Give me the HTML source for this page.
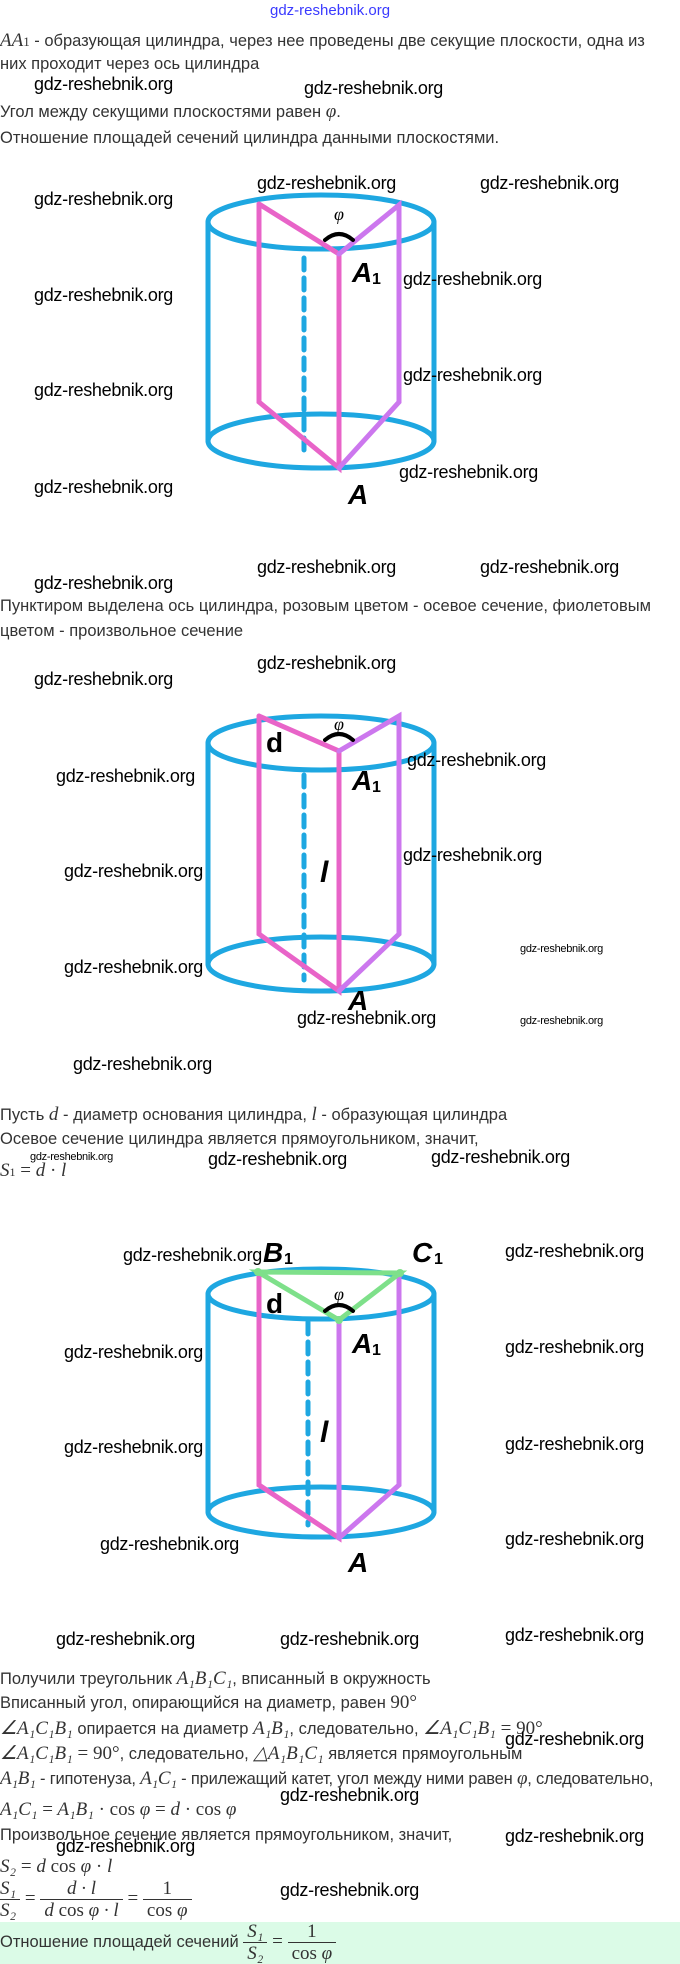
<!DOCTYPE html>
<html><head><meta charset="utf-8"><style>
body{margin:0;width:680px;height:1964px;position:relative;background:#fff;overflow:hidden;font-family:"Liberation Sans",sans-serif;}
.t{position:absolute;left:0;font-size:16.5px;color:#333;white-space:nowrap;}
.m{font-family:"Liberation Serif",serif;font-style:italic;font-size:19px;}
.w{position:absolute;font-size:18px;color:#000;white-space:nowrap;font-family:"Liberation Sans",sans-serif;letter-spacing:-0.3px;}
.s{font-size:11px;}
svg{position:absolute;left:0;top:0;}
.fr{display:inline-block;vertical-align:middle;text-align:center;font-family:"Liberation Serif",serif;font-style:italic;font-size:19px;white-space:nowrap;line-height:21px;}
.fr > span{display:block;padding:0 4px;white-space:nowrap;}
.fr > span.n{border-bottom:1px solid #333;}
.up{font-style:normal;}
</style></head><body>
<div style="position:absolute;left:270px;top:2px;color:#3a3aff;font-size:15px;">gdz-reshebnik.org</div>
<div class="t" style="top:30px"><span class="m">AA</span><span class="m" style="font-size:13px;font-style:normal">1</span> - образующая цилиндра, через нее проведены две секущие плоскости, одна из</div>
<div class="t" style="top:55px">них проходит через ось цилиндра</div>
<div class="t" style="top:101px">Угол между секущими плоскостями равен <span class="m">φ</span>.</div>
<div class="t" style="top:129px">Отношение площадей сечений цилиндра данными плоскостями.</div>

<svg width="680" height="1964" viewBox="0 0 680 1964">
<g fill="none" stroke-width="5" stroke-linecap="round">
<line x1="208" y1="222" x2="208" y2="441" stroke="#1ea7e1"/>
<line x1="434" y1="222" x2="434" y2="441" stroke="#1ea7e1"/>
<ellipse cx="321" cy="222" rx="113" ry="27" stroke="#1ea7e1"/>
<ellipse cx="321" cy="441" rx="113" ry="27" stroke="#1ea7e1"/>
<line x1="304" y1="258" x2="304" y2="458" stroke="#1ea7e1" stroke-dasharray="12,8"/>
<polyline points="259,204 339,254 339,468 259,402 259,204" stroke="#e864c8"/>
<polyline points="339,254 399,205 399,402 339,468" stroke="#cc77ee"/>
<path d="M325 240 Q339 228 353 240" stroke="#000" stroke-width="4"/>
<line x1="208" y1="743" x2="208" y2="964" stroke="#1ea7e1"/>
<line x1="434" y1="743" x2="434" y2="964" stroke="#1ea7e1"/>
<ellipse cx="321" cy="743" rx="113" ry="27" stroke="#1ea7e1"/>
<ellipse cx="321" cy="964" rx="113" ry="27" stroke="#1ea7e1"/>
<line x1="304" y1="775" x2="304" y2="980" stroke="#1ea7e1" stroke-dasharray="12,8"/>
<polyline points="259,716 339,751 339,991 259,934 259,716" stroke="#e864c8"/>
<polyline points="339,751 399,716 399,934 339,991" stroke="#cc77ee"/>
<path d="M325 740 Q339 728 353 740" stroke="#000" stroke-width="4"/>
<line x1="208" y1="1294" x2="208" y2="1512" stroke="#1ea7e1"/>
<line x1="434" y1="1294" x2="434" y2="1512" stroke="#1ea7e1"/>
<ellipse cx="321" cy="1294" rx="113" ry="25" stroke="#1ea7e1"/>
<ellipse cx="321" cy="1512" rx="113" ry="25" stroke="#1ea7e1"/>
<line x1="308" y1="1322" x2="308" y2="1525" stroke="#1ea7e1" stroke-dasharray="12,8"/>
<polyline points="259,1272 259,1485 339,1538 339,1320" stroke="#e864c8"/>
<polyline points="399,1273 399,1485 339,1538" stroke="#cc77ee"/>
<line x1="339" y1="1320" x2="339" y2="1538" stroke="#cc77ee"/>
<polygon points="258,1272 400,1273 339,1320" stroke="#7ee08a"/>
<circle cx="258" cy="1272" r="4" fill="#7ee08a" stroke="none"/>
<circle cx="400" cy="1273" r="4" fill="#7ee08a" stroke="none"/>
<circle cx="339" cy="1320" r="4" fill="#7ee08a" stroke="none"/>
<path d="M325 1311 Q339 1299 353 1311" stroke="#000" stroke-width="4"/>
</g>
<g font-family="Liberation Sans,sans-serif" font-weight="bold" font-style="italic" fill="#000">
<text x="334" y="220" font-size="18" font-family="Liberation Serif,serif" font-weight="normal">φ</text>
<text x="352" y="282" font-size="28">A</text><text x="372" y="284" font-size="16" font-style="normal">1</text>
<text x="348" y="504" font-size="28">A</text>
<text x="334" y="730" font-size="18" font-family="Liberation Serif,serif" font-weight="normal">φ</text>
<text x="266" y="752" font-size="28" font-style="normal">d</text>
<text x="352" y="790" font-size="28">A</text><text x="372" y="792" font-size="16" font-style="normal">1</text>
<text x="320" y="882" font-size="30">l</text>
<text x="348" y="1010" font-size="28">A</text>
<text x="334" y="1300" font-size="18" font-family="Liberation Serif,serif" font-weight="normal">φ</text>
<text x="266" y="1313" font-size="28" font-style="normal">d</text>
<text x="263" y="1262" font-size="28">B</text><text x="284" y="1264" font-size="16" font-style="normal">1</text>
<text x="412" y="1262" font-size="28">C</text><text x="434" y="1264" font-size="16" font-style="normal">1</text>
<text x="352" y="1353" font-size="28">A</text><text x="372" y="1355" font-size="16" font-style="normal">1</text>
<text x="320" y="1442" font-size="30">l</text>
<text x="348" y="1572" font-size="28">A</text>
</g>
</svg>

<div class="t" style="top:597px">Пунктиром выделена ось цилиндра, розовым цветом - осевое сечение, фиолетовым</div>
<div class="t" style="top:622px">цветом - произвольное сечение</div>
<div class="t" style="top:1104px">Пусть <span class="m">d</span> - диаметр основания цилиндра, <span class="m">l</span> - образующая цилиндра</div>
<div class="t" style="top:1130px">Осевое сечение цилиндра является прямоугольником, значит,</div>
<div class="t m" style="top:1160px;font-size:19px"><i>S</i><span style="font-size:12px;font-style:normal">1</span> <span class="up">= </span>d <span class="up">·</span> l</div>

<div class="t" style="top:1668px">Получили треугольник <span class="m">A₁B₁C₁</span>, вписанный в окружность</div>
<div class="t" style="top:1692px">Вписанный угол, опирающийся на диаметр, равен <span class="m up">90°</span></div>
<div class="t" style="top:1717px"><span class="m">∠A₁C₁B₁</span> опирается на диаметр <span class="m">A₁B₁</span>, следовательно, <span class="m">∠A₁C₁B₁ <span class="up">= 90°</span></span></div>
<div class="t" style="top:1742px"><span class="m">∠A₁C₁B₁ <span class="up">= 90°</span></span>, следовательно, <span class="m">△A₁B₁C₁</span> является прямоугольным</div>
<div class="t" style="top:1768px;letter-spacing:-0.2px"><span class="m">A₁B₁</span> - гипотенуза, <span class="m">A₁C₁</span> - прилежащий катет, угол между ними равен <span class="m">φ</span>, следовательно,</div>
<div class="t m" style="top:1799px">A₁C₁ <span class="up">=</span> A₁B₁ <span class="up">· cos</span> φ <span class="up">=</span> d <span class="up">· cos</span> φ</div>
<div class="t" style="top:1826px">Произвольное сечение является прямоугольником, значит,</div>
<div class="t m" style="top:1856px">S₂ <span class="up">=</span> d <span class="up">cos</span> φ <span class="up">·</span> l</div>
<div class="t" style="top:1878px;left:-4px"><span class="fr"><span class="n">S₁</span><span>S₂</span></span><span class="m up"> = </span><span class="fr"><span class="n">d · l</span><span>d <i class="up">cos</i> φ · l</span></span><span class="m up"> = </span><span class="fr"><span class="n up">1</span><span><i class="up">cos</i> φ</span></span></div>
<div style="position:absolute;left:0;top:1922px;width:680px;height:42px;background:#dbfbe7"></div>
<div class="t" style="top:1921px">Отношение площадей сечений <span class="fr"><span class="n">S₁</span><span>S₂</span></span><span class="m up"> = </span><span class="fr"><span class="n up">1</span><span><i class="up">cos</i> φ</span></span></div>

<div class="w" style="left:34px;top:74px">gdz-reshebnik.org</div>
<div class="w" style="left:304px;top:78px">gdz-reshebnik.org</div>
<div class="w" style="left:34px;top:189px">gdz-reshebnik.org</div>
<div class="w" style="left:257px;top:173px">gdz-reshebnik.org</div>
<div class="w" style="left:480px;top:173px">gdz-reshebnik.org</div>
<div class="w" style="left:34px;top:285px">gdz-reshebnik.org</div>
<div class="w" style="left:403px;top:269px">gdz-reshebnik.org</div>
<div class="w" style="left:34px;top:380px">gdz-reshebnik.org</div>
<div class="w" style="left:403px;top:365px">gdz-reshebnik.org</div>
<div class="w" style="left:34px;top:477px">gdz-reshebnik.org</div>
<div class="w" style="left:399px;top:462px">gdz-reshebnik.org</div>
<div class="w" style="left:34px;top:573px">gdz-reshebnik.org</div>
<div class="w" style="left:257px;top:557px">gdz-reshebnik.org</div>
<div class="w" style="left:480px;top:557px">gdz-reshebnik.org</div>
<div class="w" style="left:34px;top:669px">gdz-reshebnik.org</div>
<div class="w" style="left:257px;top:653px">gdz-reshebnik.org</div>
<div class="w" style="left:56px;top:766px">gdz-reshebnik.org</div>
<div class="w" style="left:407px;top:750px">gdz-reshebnik.org</div>
<div class="w" style="left:64px;top:861px">gdz-reshebnik.org</div>
<div class="w" style="left:403px;top:845px">gdz-reshebnik.org</div>
<div class="w" style="left:64px;top:957px">gdz-reshebnik.org</div>
<div class="w s" style="left:520px;top:943px">gdz-reshebnik.org</div>
<div class="w" style="left:297px;top:1008px">gdz-reshebnik.org</div>
<div class="w s" style="left:520px;top:1015px">gdz-reshebnik.org</div>
<div class="w" style="left:73px;top:1054px">gdz-reshebnik.org</div>
<div class="w s" style="left:30px;top:1151px">gdz-reshebnik.org</div>
<div class="w" style="left:208px;top:1149px">gdz-reshebnik.org</div>
<div class="w" style="left:431px;top:1147px">gdz-reshebnik.org</div>
<div class="w" style="left:123px;top:1245px">gdz-reshebnik.org</div>
<div class="w" style="left:505px;top:1241px">gdz-reshebnik.org</div>
<div class="w" style="left:64px;top:1342px">gdz-reshebnik.org</div>
<div class="w" style="left:505px;top:1337px">gdz-reshebnik.org</div>
<div class="w" style="left:64px;top:1437px">gdz-reshebnik.org</div>
<div class="w" style="left:505px;top:1434px">gdz-reshebnik.org</div>
<div class="w" style="left:100px;top:1534px">gdz-reshebnik.org</div>
<div class="w" style="left:505px;top:1529px">gdz-reshebnik.org</div>
<div class="w" style="left:56px;top:1629px">gdz-reshebnik.org</div>
<div class="w" style="left:280px;top:1629px">gdz-reshebnik.org</div>
<div class="w" style="left:505px;top:1625px">gdz-reshebnik.org</div>
<div class="w" style="left:505px;top:1729px">gdz-reshebnik.org</div>
<div class="w" style="left:280px;top:1785px">gdz-reshebnik.org</div>
<div class="w" style="left:505px;top:1826px">gdz-reshebnik.org</div>
<div class="w" style="left:56px;top:1836px">gdz-reshebnik.org</div>
<div class="w" style="left:280px;top:1880px">gdz-reshebnik.org</div>
</body></html>
